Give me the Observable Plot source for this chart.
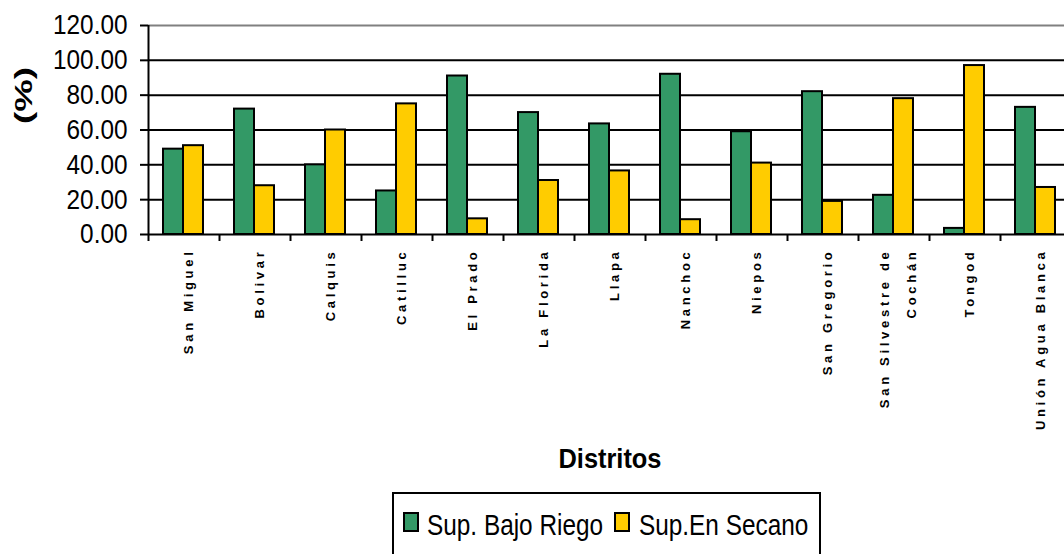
<!DOCTYPE html>
<html>
<head>
<meta charset="utf-8">
<script src="https://cdn.jsdelivr.net/npm/d3@7"></script>
<script src="https://cdn.jsdelivr.net/npm/@observablehq/plot@0.6"></script>
<style>
  html, body { margin: 0; padding: 0; background: #fff; overflow: hidden; }
  #wrap { position: relative; width: 1064px; height: 554px; overflow: hidden; font-family: "Liberation Sans", Arial, sans-serif; }
  #legend { position: absolute; left: 392px; top: 492px; width: 429px; height: 80px; border: 2px solid #000; box-sizing: border-box; background: #fff; }
  .sw { position: absolute; width: 16px; height: 20px; border: 2px solid #000; box-sizing: border-box; top: 18px; }
  .lt { position: absolute; top: 17px; font-size: 29px; line-height: 29px; white-space: nowrap; color: #000; transform: scaleX(0.84); transform-origin: left center; }
</style>
</head>
<body>
<div id="wrap"></div>
<script>
// ---- data ----
const districts = ["San Miguel", "Bolivar", "Calquis", "Catilluc", "El Prado", "La Florida", "Llapa", "Nanchoc", "Niepos", "San Gregorio", "San Silvestre de Cochán", "Tongod", "Unión Agua Blanca"];
const xTickLabels = ["San Miguel", "Bolivar", "Calquis", "Catilluc", "El Prado", "La Florida", "Llapa", "Nanchoc", "Niepos", "San Gregorio", "San Silvestre de\nCochán", "Tongod", "Unión Agua Blanca"];
const seriesNames = ["Sup. Bajo Riego", "Sup.En Secano"];
const bajoRiego = [49, 72, 40, 25, 91, 70, 63.5, 92, 59, 82, 22.5, 3.5, 73];
const enSecano  = [51, 28, 60, 75, 9, 31, 36.5, 8.5, 41, 19, 78, 97, 27];
const yTicks = [0, 20, 40, 60, 80, 100, 120];
const gridTicks = [20, 40, 60, 80, 100];
const topTick = [120];
const seriesColors = ["#339966", "#FFCC00"];
const yTitle = "(%)";
const xTitle = "Distritos";

// ---- layout ----
const W = 1064, H = 488;
const mLeft = 148, mTop = 25, mBottom = 254, mRight = -7;
const slot = (W - mRight - mLeft) / districts.length;

const rows = districts.map((d, i) => ({district: d, riego: bajoRiego[i], secano: enSecano[i], label: xTickLabels[i]}));

const plot = Plot.plot({
  width: W,
  height: H,
  marginLeft: mLeft,
  marginRight: mRight,
  marginTop: mTop,
  marginBottom: mBottom,
  style: {fontFamily: "'Liberation Sans', Arial, sans-serif", color: "#000", background: "#fff"},
  x: {type: "band", domain: districts, padding: 0, axis: null},
  y: {domain: [0, 120], axis: null},
  marks: [
    Plot.gridY(gridTicks, {stroke: "#000", strokeOpacity: 1, strokeWidth: 2}),
    Plot.gridY(topTick, {stroke: "#808080", strokeOpacity: 1, strokeWidth: 2}),
    Plot.barY(rows, {x: "district", y: "riego", fill: seriesColors[0], stroke: "#000", strokeWidth: 2, insetLeft: 15, insetRight: slot - 35}),
    Plot.barY(rows, {x: "district", y: "secano", fill: seriesColors[1], stroke: "#000", strokeWidth: 2, insetLeft: 35, insetRight: slot - 55}),
    Plot.ruleY([0], {stroke: "#000", strokeWidth: 2}),
    Plot.ruleX([districts[0]], {x: d => d, dx: -slot / 2, y1: 0, y2: 120, stroke: "#000", strokeWidth: 2}),
    Plot.ruleX(districts, {x: d => d, dx: -slot / 2, y1: 0, y2: 0, insetBottom: -7, stroke: "#000", strokeWidth: 2}),
    Plot.axisY(yTicks, {tickSize: 8, tickPadding: 13, tickFormat: d => d.toFixed(2), fontSize: 28, stroke: "#000", strokeWidth: 2, fill: "#000"}),
    Plot.text(rows, {x: "district", text: "label", frameAnchor: "bottom", dy: 14, rotate: -90, textAnchor: "end", lineAnchor: "middle", lineHeight: 2.1, fontSize: 13, fontWeight: "bold", fill: "#000"}),
    Plot.text([yTitle], {frameAnchor: "left", dx: -124, dy: -6, rotate: -90, fontSize: 23, fontWeight: "bold", fill: "#000"}),
    Plot.text([xTitle], {frameAnchor: "bottom", dy: 233, fontSize: 28, fontWeight: "bold", fill: "#000"})
  ]
});

const wrap = document.getElementById("wrap");
wrap.appendChild(plot);
const svg = d3.select(plot);

// condensed / stretched look of the original text
const yTickStrings = yTicks.map(d => d.toFixed(2));
const xLabelStrings = xTickLabels.map(s => s.replace("\n", ""));
svg.selectAll("text").each(function () {
  const t = this.textContent;
  const sel = d3.select(this);
  if (yTickStrings.includes(t)) {
    const len = this.getComputedTextLength();
    sel.attr("textLength", len * 0.87).attr("lengthAdjust", "spacingAndGlyphs");
  } else if (t === yTitle) {
    sel.attr("textLength", 57).attr("lengthAdjust", "spacingAndGlyphs");
  } else if (t === xTitle) {
    sel.attr("textLength", 103).attr("lengthAdjust", "spacingAndGlyphs");
  } else if (xLabelStrings.includes(t)) {
    sel.style("letter-spacing", "3.7px");
  }
});

// legend
const legend = d3.select(wrap).append("div").attr("id", "legend");
const swLeft = [9, 220], txLeft = [33, 245];
seriesNames.forEach((name, i) => {
  legend.append("div").attr("class", "sw").style("left", swLeft[i] + "px").style("background", seriesColors[i]);
  legend.append("div").attr("class", "lt").style("left", txLeft[i] + "px").text(name);
});
</script>
</body>
</html>
